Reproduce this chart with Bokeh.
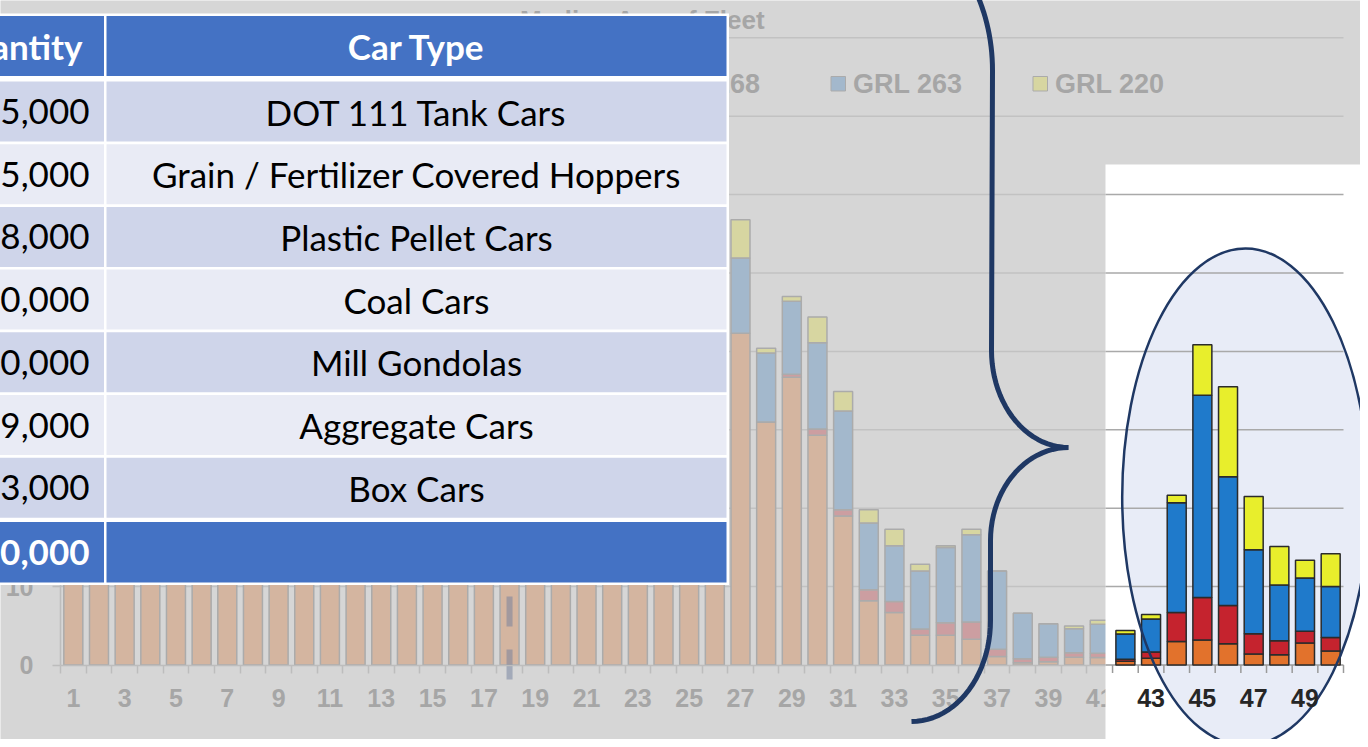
import numpy as np
from bokeh.plotting import figure
from bokeh.models import Range1d, LinearAxis, FixedTicker, ColumnDataSource
from bokeh.core.properties import value
from bokeh.embed import file_html
from bokeh.resources import INLINE

# ---------------- data ----------------
chart_title = "Median Age of Fleet"
ages = list(range(1, 51))
series_names = ["GRL 286", "GRL 268", "GRL 263", "GRL 220"]
# ages 1-26 lie hidden under the table: only their lower part is visible
grl_286 = [38, 41, 44, 47, 52, 49, 46, 43, 40, 45, 50, 55, 58, 54, 51, 48, 46, 44, 47, 52, 56, 53, 49, 45, 42, 40,
           42.3, 31.0, 36.7, 29.3, 19.0, 8.2, 6.7, 3.8, 3.8, 3.3, 1.1, 0.3, 0.4, 1.0, 0.95,
           0.48, 0.86, 3.0, 3.2, 2.7, 1.4, 1.3, 2.8, 1.8]
grl_268 = [0, 0, 0, 0, 0, 0, 0, 0, 0, 0, 0, 0, 0, 0, 0, 0, 0, 0, 0, 0, 0, 0, 0, 0, 0, 0,
           0, 0, 0.4, 0.8, 0.8, 1.4, 1.4, 0.8, 1.6, 2.2, 0.9, 0.5, 0.6, 0.55, 0.55,
           0.24, 0.81, 3.7, 5.4, 4.9, 2.6, 1.8, 1.5, 1.7]
grl_263 = [0, 0, 0, 0, 0, 0, 0, 0, 0, 0, 0, 0, 0, 0, 0, 0, 0, 0, 0, 0, 0, 0, 0, 0, 0, 0,
           9.6, 8.8, 9.3, 11.0, 12.6, 8.5, 7.1, 7.4, 9.6, 11.1, 10.0, 5.8, 4.25, 3.06, 3.7,
           3.25, 4.2, 14.0, 25.8, 16.4, 10.7, 7.1, 6.8, 6.5]
grl_220 = [0, 0, 0, 0, 0, 0, 0, 0, 0, 0, 0, 0, 0, 0, 0, 0, 0, 0, 0, 0, 0, 0, 0, 0, 0, 0,
           4.9, 0.6, 0.6, 3.3, 2.5, 1.7, 2.1, 0.85, 0.2, 0.7, 0, 0, 0, 0.35, 0.5,
           0.43, 0.57, 0.96, 6.46, 11.5, 6.8, 4.9, 2.25, 4.2]
median_age = 18
y_ticks = [0, 10, 20, 30, 40, 50, 60, 70, 80]
x_tick_ages = [1, 3, 5, 7, 9, 11, 13, 15, 17, 19, 21, 23, 25, 27, 29, 31, 33, 35, 37, 39, 41, 43, 45, 47, 49]
inset_first_age = 42
inset_label_ages = [43, 45, 47, 49]

table_header = ["Quantity", "Car Type"]
car_types = ["DOT 111 Tank Cars", "Grain / Fertilizer Covered Hoppers", "Plastic Pellet Cars",
             "Coal Cars", "Mill Gondolas", "Aggregate Cars", "Box Cars"]
quantities = ["65,000", "55,000", "18,000", "40,000", "10,000", "19,000", "13,000"]
total_quantity = "220,000"

# ---------------- styles / geometry ----------------
faded = ["#d4b5a0", "#cc9ea1", "#a3b8cc", "#d7d6a1"]
bright = ["#e2722c", "#c5232e", "#1f7acb", "#e8ee2c"]
GRAY_TXT = "#a6a6a6"
NAVY = "#1f3864"

W, H = 1360, 739
PX_AGE = 25.66
X0_REF = 60.0
PX_VAL = 7.84
Y0_REF = 664.5


def age_at(xref):
    return 0.5 + (xref - X0_REF) / PX_AGE


def val_at(yref):
    return (Y0_REF - yref) / PX_VAL


p = figure(width=W, height=H, output_backend="svg", toolbar_location=None, title=None,
           x_range=Range1d(age_at(0), age_at(W)),
           y_range=Range1d(val_at(H), val_at(0)),
           x_axis_type=None, y_axis_type=None, min_border=0)
p.extra_x_ranges = {"px": Range1d(0, W)}
p.extra_y_ranges = {"py": Range1d(H, 0)}
p.background_fill_color = "#d6d6d6"
p.border_fill_color = "#d6d6d6"
p.outline_line_color = None
p.grid.visible = False

x_lo, x_hi = ages[0] - 0.5, ages[-1] + 0.5

# gridlines of the (faded) background chart
grid_vals = y_ticks[1:]
p.segment(x0=x_lo, x1=x_hi, y0=grid_vals, y1=grid_vals, line_color="#c2c2c2", line_width=1.5, level="underlay")

src = ColumnDataSource(dict(age=ages, a=grl_286, b=grl_268, c=grl_263, d=grl_220))
stack = ["a", "b", "c", "d"]
bg = p.vbar_stack(stack, x="age", width=0.74, source=src, fill_color=faded,
                  line_color="#ababab", line_width=1.5)

# median marker
p.segment(x0=[median_age], x1=[median_age], y0=[val_at(679)], y1=[83],
          line_color="#6f7d9c", line_alpha=0.5, line_width=6, line_dash="30 23")

# title and legend (mostly hidden under the table)
p.text(x=[765], y=[19], text=[chart_title], x_range_name="px", y_range_name="py",
       text_align="right", text_baseline="middle", text_font=value("Liberation Sans"),
       text_font_style="bold", text_font_size="26px", text_color=GRAY_TXT)
leg_left = [426.5 + 202 * i for i in range(len(series_names))]
p.quad(left=leg_left, right=[l + 14.5 for l in leg_left], top=76, bottom=90.5,
       fill_color=faded, line_color="#ababab", line_width=1, x_range_name="px", y_range_name="py")
p.text(x=[l + 22 for l in leg_left], y=83.5, text=series_names, x_range_name="px", y_range_name="py",
       text_align="left", text_baseline="middle", text_font=value("Liberation Sans"),
       text_font_style="bold", text_font_size="27px", text_color=GRAY_TXT)

boundaries = [a + 0.5 for a in [0] + ages]
xaxis = LinearAxis(fixed_location=0, bounds=(x_lo, x_hi),
                   ticker=FixedTicker(ticks=x_tick_ages, minor_ticks=boundaries),
                   axis_line_color="#bdbdbd", axis_line_width=1.5,
                   major_tick_in=0, major_tick_out=0, minor_tick_in=0, minor_tick_out=8,
                   minor_tick_line_color="#bdbdbd", minor_tick_line_width=1.5,
                   major_label_standoff=16, major_label_text_font="Liberation Sans",
                   major_label_text_font_style="bold", major_label_text_font_size="25px",
                   major_label_text_color=GRAY_TXT)
p.add_layout(xaxis, "below")
yaxis = LinearAxis(fixed_location=x_lo, bounds=(0, y_ticks[-1]),
                   ticker=FixedTicker(ticks=y_ticks, minor_ticks=[]),
                   axis_line_color="#bdbdbd", axis_line_width=1.5,
                   major_tick_in=0, major_tick_out=8, major_tick_line_color="#bdbdbd",
                   major_tick_line_width=1.5, minor_tick_out=0, minor_tick_in=0,
                   major_label_standoff=19, major_label_text_font="Liberation Sans",
                   major_label_text_font_style="bold", major_label_text_font_size="25px",
                   major_label_text_color=GRAY_TXT)
p.add_layout(yaxis, "left")


def ov(**kw):
    kw.update(x_range_name="px", y_range_name="py", level="overlay")
    return kw


# ---------------- table overlay ----------------
BLUE = "#4472c4"
row_cols = ["#cfd5ea", "#e9ebf5"]
c1 = (-20, 103.5)
c2 = (106, 726)
row_tops = [81 + i * 62.7 for i in range(len(car_types))]
row_h = 60
p.quad(left=[-20], right=[728.5], top=[13], bottom=[584.5], fill_color="white", line_color=None, **ov())
# header + total
p.quad(left=[c1[0], c2[0], c1[0], c2[0]], right=[c1[1], c2[1], c1[1], c2[1]],
       top=[15.5, 15.5, 521.5, 521.5], bottom=[75.5, 75.5, 582, 582],
       fill_color=BLUE, line_color=None, **ov())
rc = [row_cols[i % 2] for i in range(len(car_types))]
p.quad(left=[c1[0]] * len(row_tops), right=[c1[1]] * len(row_tops), top=row_tops,
       bottom=[t + row_h for t in row_tops], fill_color=rc, line_color=None, **ov())
p.quad(left=[c2[0]] * len(row_tops), right=[c2[1]] * len(row_tops), top=row_tops,
       bottom=[t + row_h for t in row_tops], fill_color=rc, line_color=None, **ov())

TFONT = value("Lato")
mid_rows = [t + row_h / 2 for t in row_tops]
p.text(x=[82], y=[45.5], text=[table_header[0]], text_align="right", text_baseline="middle",
       text_font=TFONT, text_font_style="bold", text_font_size="35px", text_color="white", **ov())
p.text(x=[416], y=[45.5], text=[table_header[1]], text_align="center", text_baseline="middle",
       text_font=TFONT, text_font_style="bold", text_font_size="35px", text_color="white", **ov())
p.text(x=[416] * len(car_types), y=mid_rows, text=car_types, text_align="center", text_baseline="middle",
       text_font=TFONT, text_font_size="35px", text_color="black", **ov())
p.text(x=[89] * len(quantities), y=mid_rows, text=quantities, text_align="right", text_baseline="middle",
       text_font=TFONT, text_font_size="35px", text_color="black", **ov())
p.text(x=[89], y=[551.75], text=[total_quantity], text_align="right", text_baseline="middle",
       text_font=TFONT, text_font_style="bold", text_font_size="35px", text_color="white", **ov())

# ---------------- curly brace ----------------
t = np.linspace(0.6, 0, 16)
bx = list(880 + 112 * np.cos(t)); by = list(70 - 150 * np.sin(t))
bx += [991]; by += [350]
t = np.linspace(0, np.pi / 2, 24)
bx += list(1068 - 77 * np.cos(t)); by += list(350 + 97 * np.sin(t))
bx += list(1068 - 78 * np.sin(t)); by += list(540 - 93 * np.cos(t))
bx += [990]; by += [620]
bx += list(911 + 79 * np.cos(t)); by += list(620 + 101 * np.sin(t))
p.line(bx, by, line_color=NAVY, line_width=5, line_join="bevel", **ov())

# ---------------- highlighted inset (ages 42-50) ----------------
INSET_LEFT_REF = 1105
p.quad(left=[INSET_LEFT_REF], right=[1400], top=[164], bottom=[800], fill_color="white", line_color=None, **ov())
p.ellipse(x=[1245], y=[496.5], width=[246.6], height=[497], width_units="screen", height_units="screen",
          fill_color="#e8ecf7", line_color=None, **ov())
inset_x0 = age_at(INSET_LEFT_REF)
p.segment(x0=inset_x0, x1=x_hi, y0=y_ticks[1:7], y1=y_ticks[1:7], line_color="#a9a9a9",
          line_width=1.5, level="overlay")
p.segment(x0=[inset_x0], x1=[x_hi], y0=[0], y1=[0], line_color="#9a9a9a", line_width=1.5, level="overlay")
inset_bounds = [a + 0.5 for a in ages if a >= inset_first_age - 1]
p.segment(x0=inset_bounds, x1=inset_bounds, y0=0, y1=-8 / PX_VAL, line_color="#9a9a9a",
          line_width=1.5, level="overlay")
k = ages.index(inset_first_age)
isrc = ColumnDataSource(dict(age=ages[k:], a=grl_286[k:], b=grl_268[k:], c=grl_263[k:], d=grl_220[k:]))
p.vbar_stack(stack, x="age", width=0.74, source=isrc, fill_color=bright, line_color="#2b2b2b",
             line_width=1.5, level="overlay")
p.ellipse(x=[1245], y=[496.5], width=[246.6], height=[497], width_units="screen", height_units="screen",
          fill_color=None, line_color=NAVY, line_width=2.5, **ov())
p.text(x=inset_label_ages, y=[val_at(697.5)] * len(inset_label_ages), text=[str(a) for a in inset_label_ages],
       text_align="center", text_baseline="middle", text_font=value("Liberation Sans"),
       text_font_style="bold", text_font_size="25px", text_color="#262626", level="overlay")

open("out.html", "w").write(file_html(p, INLINE))
